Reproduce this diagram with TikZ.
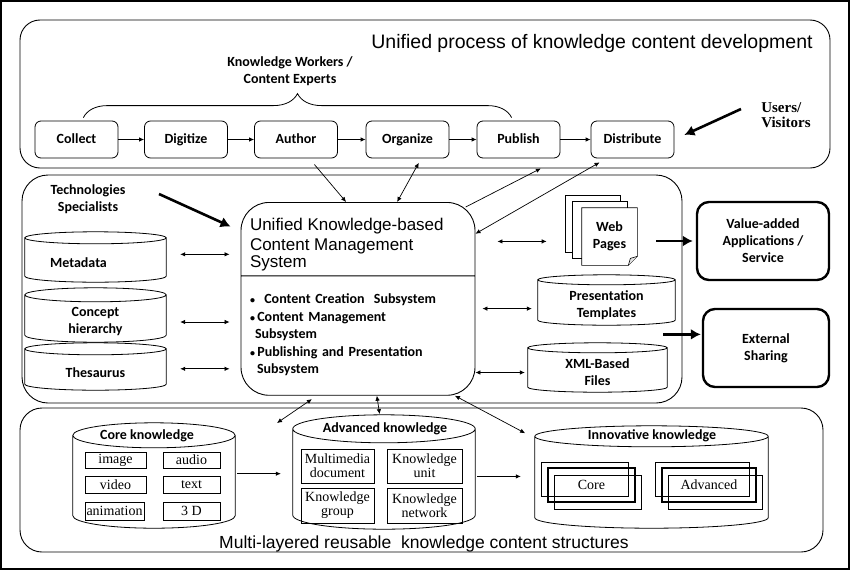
\documentclass[tikz,border=0pt]{standalone}
\usepackage{fontspec}
\newfontfamily\calib{Carlito}
\newfontfamily\arialish{Liberation Sans}
\newfontfamily\timesish{Liberation Serif}
\usetikzlibrary{calc,arrows.meta,decorations.pathreplacing,shapes.multipart}
\newcommand\dotmark{{\fontsize{10}{17.5}\selectfont•}}

\begin{document}
\begin{tikzpicture}[x=1pt,y=-1pt,>={Latex[length=5pt,width=4.5pt]},
  every node/.style={font=\fontsize{14}{17}\selectfont\calib\bfseries},
  stage/.style={draw, line width=0.8pt, rounded corners=6pt, minimum width=83pt, minimum height=37pt, inner sep=0pt, text height=9.5pt, text depth=2.5pt},
  band/.style={draw, line width=0.9pt},
  drum/.style={inner sep=0pt, append after command={\pgfextra{
      \draw[line width=0.8pt] let \p1=(\tikzlastnode.north west), \p2=(\tikzlastnode.south east), \n1={(\x2-\x1)/2} in
        (\x1,{\y1+#1}) -- (\x1,{\y2+#1}) arc[start angle=180, end angle=360, x radius=\n1, y radius=#1] -- (\x2,{\y1+#1})
        ({(\x1+\x2)/2},{\y1+#1}) ellipse[x radius=\n1, y radius=#1];}}},
  cell/.style={draw, line width=0.9pt, inner sep=0pt, font=\fontsize{14}{14}\selectfont\timesish},
  stack/.style={draw, line width=0.7pt, minimum width=87pt, minimum height=34pt, inner sep=0pt, font=\fontsize{14}{14}\selectfont\timesish},
  outlet/.style={draw, line width=2.4pt, rounded corners=12pt, align=center, inner sep=0pt},
  page/.style={draw, line width=0.7pt, fill=white, minimum width=55pt, minimum height=57pt, inner sep=0pt},
  fat/.style={line width=2.6pt, -{Latex[length=10pt,width=11pt]}},
  link/.style={<->, line width=0.7pt}]

\useasboundingbox (0,0) rectangle (850,570);
\draw[line width=2pt] (1,1) rectangle (849,569);

% the three layers
\draw[band, rounded corners=20pt] (20,20) rectangle (830,168);
\draw[band, rounded corners=26pt] (22,175) rectangle (682,403);
\draw[band, rounded corners=22pt] (20,408) rectangle (823,552);

\node[font=\fontsize{19.5}{22}\selectfont\arialish] (ttop) at (592,43) {Unified process of knowledge content development};

% process chain
\node[stage] (collect) at (76.5,139.5) {Collect};
\node[stage] (digitize) at (186,139.5) {Digitize};
\node[stage] (author) at (296,139.5) {Author};
\node[stage] (organize) at (407.5,139.5) {Organize};
\node[stage] (publish) at (518.5,139.5) {Publish};
\node[stage] (distribute) at (632.5,139.5) {Distribute};

\draw[->, line width=0.8pt] (collect) -- (digitize);
\draw[->, line width=0.8pt] (digitize) -- (author);
\draw[->, line width=0.8pt] (author) -- (organize);
\draw[->, line width=0.8pt] (organize) -- (publish);
\draw[->, line width=0.8pt] (publish) -- (distribute);

\draw[line width=0.8pt, decorate, decoration={brace, amplitude=24pt, raise=3pt}] (collect.70) -- (publish.110);
\node[align=center] (kw) at (290,71) {Knowledge Workers /\\Content Experts};

\node[align=left, font=\fontsize{15}{14.5}\selectfont\timesish\bfseries] (users) at (786,115) {Users/\\Visitors};
\coordinate (uvtail) at (741,109);
\draw[fat, shorten >=11pt] (uvtail) -- (distribute.east);

% management system
\node[rectangle split, rectangle split parts=2, draw, line width=0.9pt, rounded corners=28pt,
  text width=216pt, inner xsep=9pt, inner ysep=4pt, align=left, anchor=north,
  font=\fontsize{14}{17.5}\selectfont\calib\bfseries] (ukcms) at (358,202)
  {\fontsize{17}{19.5}\selectfont\arialish\mdseries\rule{0pt}{24pt}Unified Knowledge-based\\Content Management\\System
   \nodepart{two}\rule{0pt}{23.5pt}\dotmark\ \ Content Creation\ \ Subsystem\\\dotmark\,Content Management\\\hspace*{5pt}Subsystem\\\dotmark\,Publishing and Presentation\\\hspace*{7pt}Subsystem\rule[-17pt]{0pt}{17pt}};

\node[align=center] (tech) at (88,199) {Technologies\\Specialists};
\coordinate (tstail) at (159,194);
\draw[fat, shorten >=11pt] (tstail) -- (ukcms.150);

\node[drum=6pt, minimum width=141pt, minimum height=38pt] (meta) at (95.5,263) {\hspace*{-34pt}Metadata};
\node[drum=7pt, minimum width=141pt, minimum height=40pt, align=center] (concept) at (95.5,322) {Concept\\hierarchy};
\node[drum=6pt, minimum width=141pt, minimum height=35pt] (thes) at (95.5,372.5) {Thesaurus};

\draw[link, shorten <=14pt, shorten >=11pt] (meta.7) -- (meta.7 -| ukcms.west);
\draw[link, shorten <=14pt, shorten >=11pt] (concept.east) -- (concept.east -| ukcms.west);
\draw[link, shorten <=14pt, shorten >=11pt] (thes.3) -- (thes.3 -| ukcms.west);

% outputs
\node[page] (wp1) at (592.5,223.5) {};
\node[page] (wp2) at (599.5,229.5) {};
\node[page, draw=none, align=center] (web) at (609.5,236.5) {Web\\Pages};
\draw[line width=0.7pt] (web.north west) -- (web.north east) -- ($(web.south east)+(0,-9)$) -- ($(web.south east)+(-9,0)$) -- (web.south west) -- cycle;
\draw[line width=0.6pt, fill=gray!25] ($(web.south east)+(0,-9)$) -- ($(web.south east)+(-7,-7)$) -- ($(web.south east)+(-9,0)$);

\node[drum=5pt, minimum width=137pt, minimum height=40pt, align=center] (pres) at (606.5,305) {Presentation\\Templates};
\node[drum=5pt, minimum width=139pt, minimum height=39pt, align=center] (xml) at (597.5,372.5) {XML-Based\\Files};

\node[outlet, minimum width=132pt, minimum height=78pt] (value) at (763,241) {Value-added\\Applications /\\Service};
\node[outlet, minimum width=126pt, minimum height=78pt] (ext) at (766,348) {External\\Sharing};

\draw[link, shorten <=22pt, shorten >=35pt] (web.190 -| ukcms.east) -- (web.190);
\draw[link, shorten <=7pt, shorten >=6pt] (pres.183 -| ukcms.east) -- (pres.183);
\draw[link, shorten >=3pt] (xml.west -| ukcms.east) -- (xml.west);

\draw[fat, shorten <=19pt, shorten >=3pt] (value.west -| web.east) -- (value.west);
\draw[fat, shorten <=-12pt, shorten >=1pt] (ext.168 -| pres.east) -- (ext.168);

% links to the process chain
\draw[->, line width=0.7pt, shorten <=8pt] (author.305) -- (ukcms.97);
\draw[link, shorten >=5pt] (ukcms.68) -- (organize.306);
\draw[->, line width=0.7pt, shorten <=-11pt, shorten >=22pt] (ukcms.north east) -- (publish.south east);
\draw[link, shorten >=8pt] (ukcms.29) -- (distribute.216);

% knowledge layers
\node[drum=12.5pt, minimum width=162pt, minimum height=80pt] (core) at (154,488) {};
\node (coretitle) at (147,436) {Core knowledge};
\node[cell, minimum width=61pt, minimum height=16pt] (image) at (115.5,460) {image};
\node[cell, minimum width=57pt, minimum height=16pt] (audio) at (191.5,460) {audio};
\node[cell, minimum width=61pt, minimum height=17pt] (video) at (115.5,484.5) {video};
\node[cell, minimum width=57pt, minimum height=17pt] (text) at (191.5,484.5) {text};
\node[cell, minimum width=59pt, minimum height=18pt] (anim) at (114.5,511) {animation};
\node[cell, minimum width=57pt, minimum height=18pt] (threed) at (191.5,511) {3 D};

\node[drum=14pt, minimum width=182pt, minimum height=86pt] (adv) at (384,486) {};
\node (advtitle) at (385,429) {Advanced knowledge};
\node[cell, minimum width=73pt, minimum height=34pt, align=center] (mmdoc) at (337.5,466) {Multimedia\\document};
\node[cell, minimum width=75pt, minimum height=34pt, align=center] (kunit) at (424.5,466) {Knowledge\\unit};
\node[cell, minimum width=73pt, minimum height=35pt, align=center] (kgroup) at (337.5,505.5) {Knowledge\\group};
\node[cell, minimum width=75pt, minimum height=35pt, align=center] (knet) at (424.5,505.5) {Knowledge\\network};

\node[drum=10.5pt, minimum width=233pt, minimum height=81pt] (innov) at (651.5,487.5) {};
\node (innovtitle) at (652,436) {Innovative knowledge};
\node[stack] (coreA) at (585,479) {};
\node[stack, line width=1.1pt] (coreB) at (591.5,485) {Core};
\node[stack] (coreC) at (598,492) {};
\node[stack, minimum width=94pt] (advA) at (702,479) {};
\node[stack, minimum width=94pt, line width=1.1pt] (advB) at (709,485) {Advanced};
\node[stack, minimum width=94pt] (advC) at (715.5,492) {};

\draw[->, line width=0.7pt, shorten <=2pt, shorten >=12pt] (core.10) -- (core.10 -| adv.west);
\draw[->, line width=0.7pt, shorten <=2pt, shorten >=14pt] (adv.6) -- (adv.6 -| innov.west);

\coordinate (coreend) at (277,423);
\draw[link, shorten <=6pt] (ukcms.247) -- (coreend);
\draw[link, shorten >=29pt] (ukcms.281) -- (adv.north);
\draw[link, shorten >=29pt] (ukcms.315) -- (innov.158);

\node[font=\fontsize{17.5}{20}\selectfont\arialish] (tbot) at (424,544) {Multi-layered reusable\ \ knowledge content structures};
\end{tikzpicture}
\end{document}
